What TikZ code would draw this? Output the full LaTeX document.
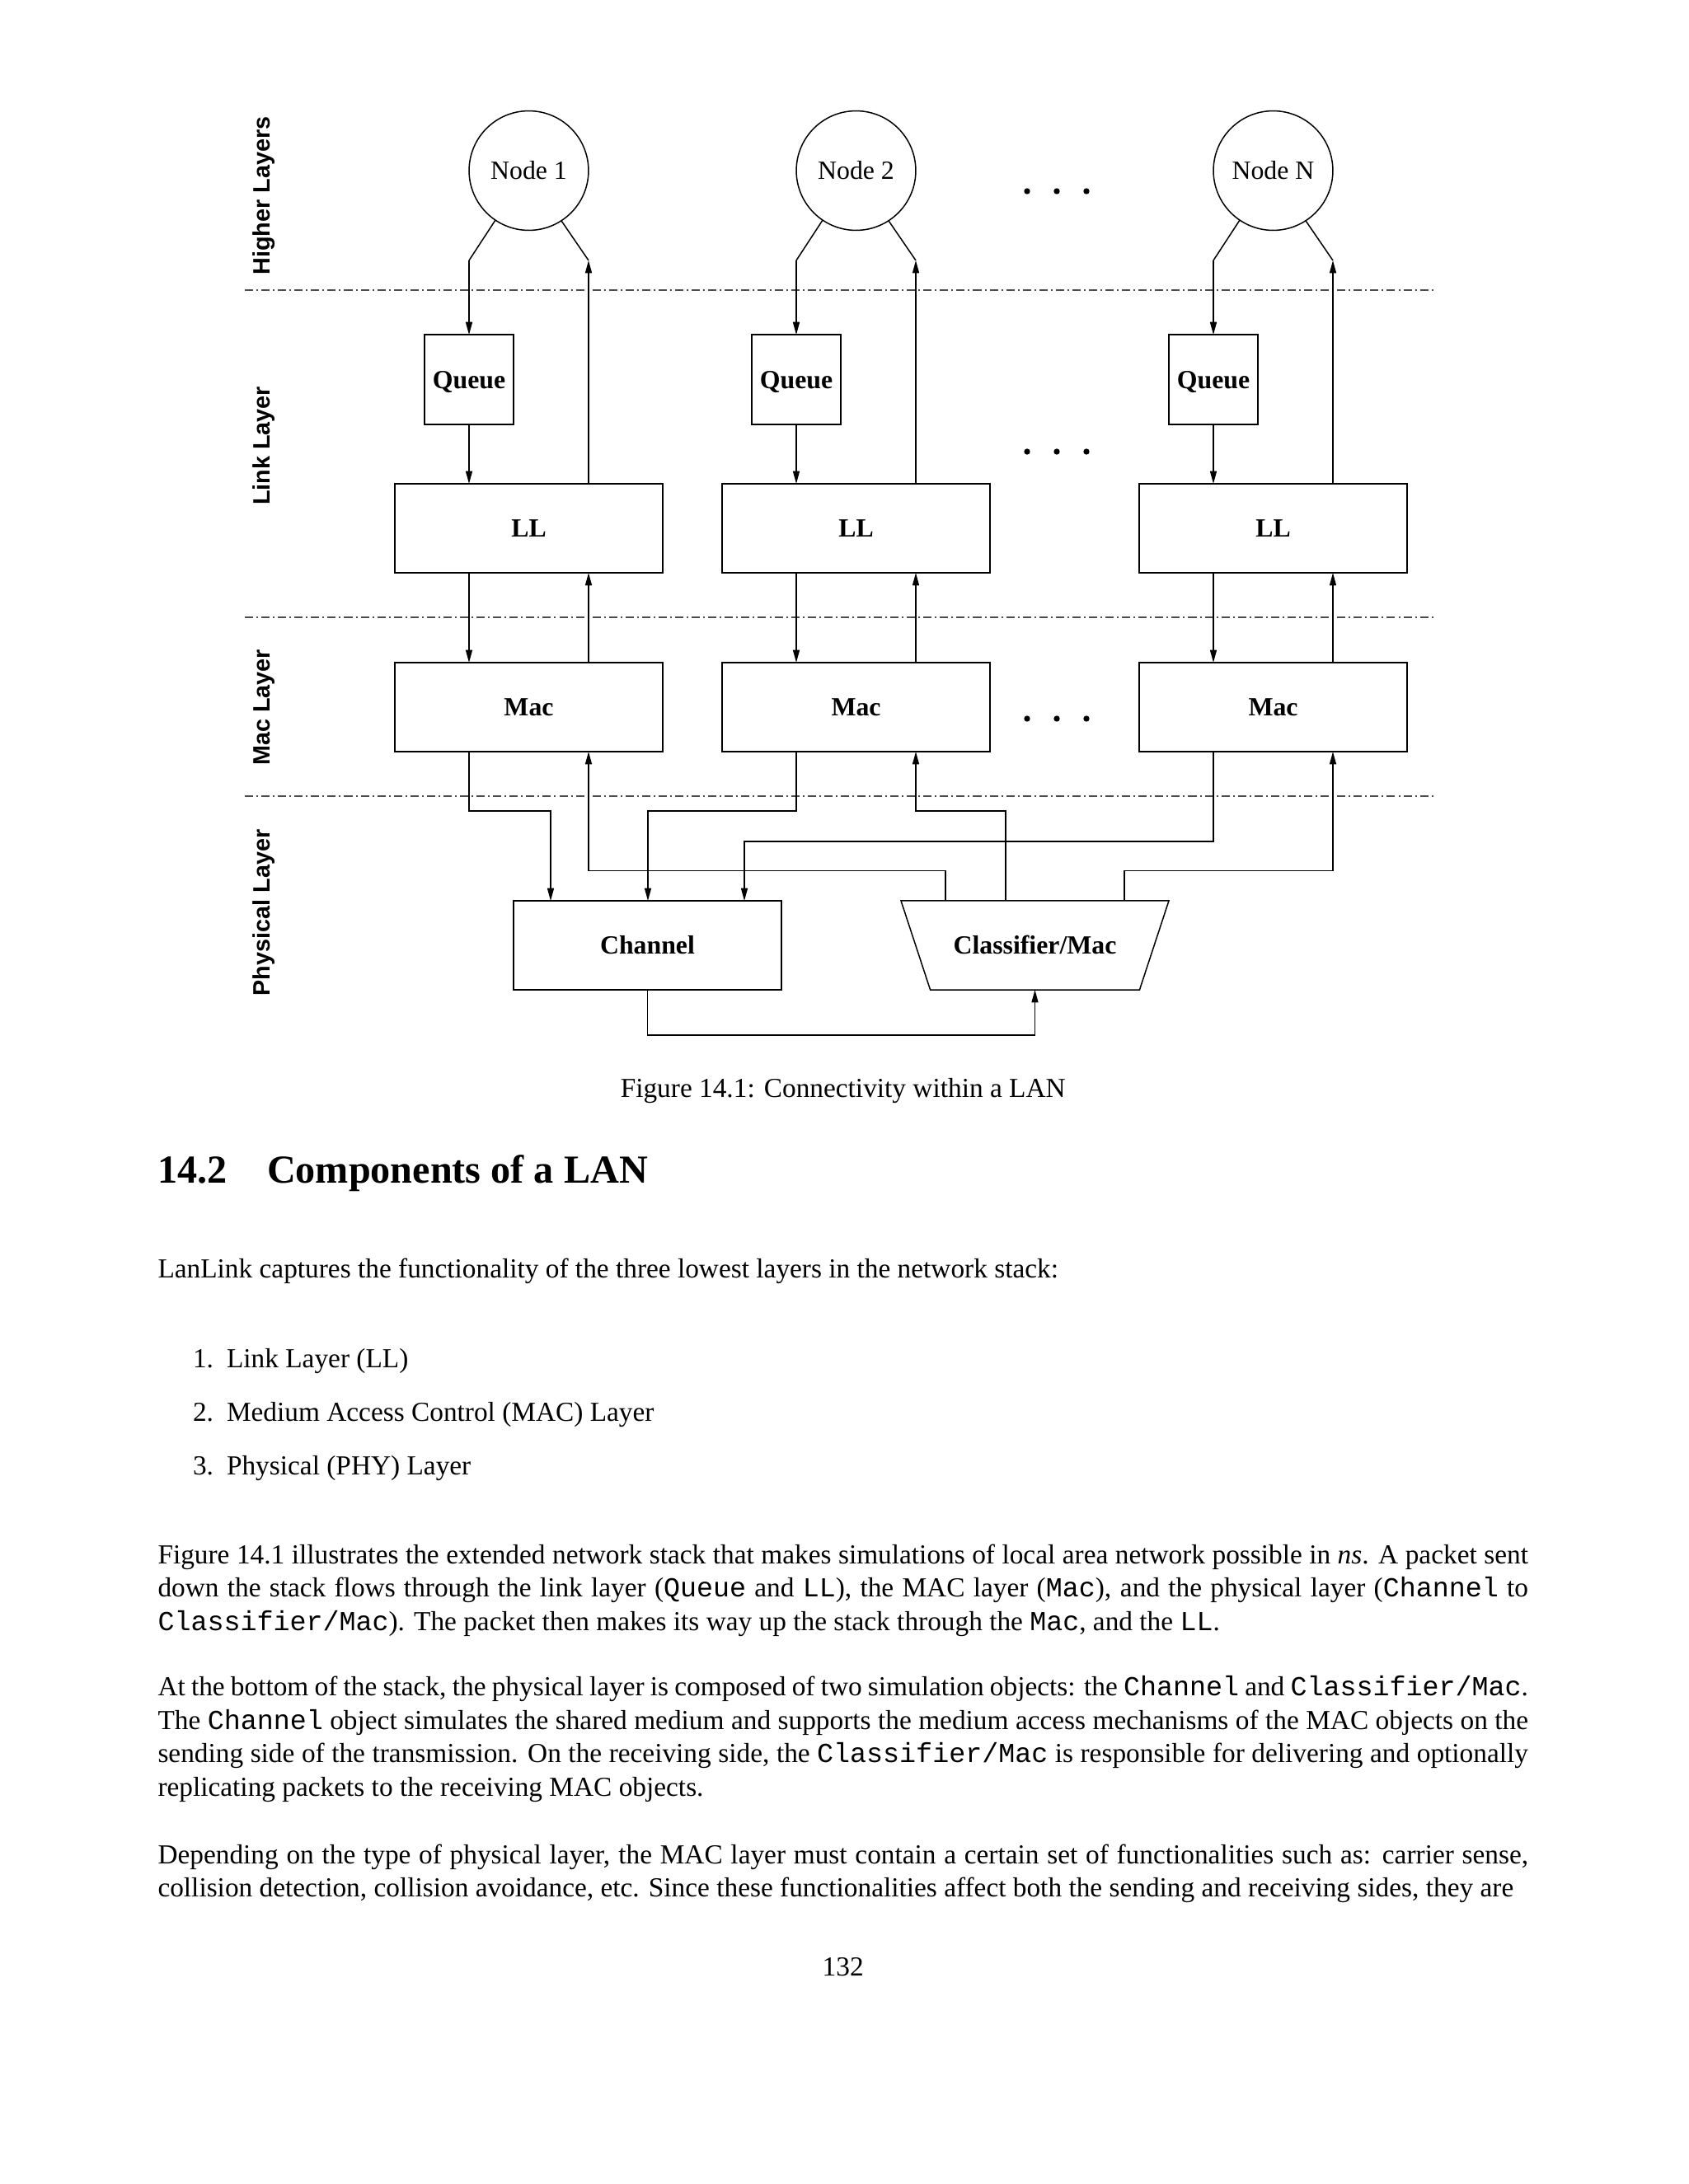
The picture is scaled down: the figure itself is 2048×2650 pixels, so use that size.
\documentclass[tikz,border=0pt]{standalone}
\usepackage{fontspec}
\setmainfont{Liberation Serif}
\setsansfont{Liberation Sans}
\setmonofont{Liberation Mono}
\usetikzlibrary{positioning,arrows.meta,shapes.geometric}

\begin{document}
\begin{tikzpicture}[x=0.29883bp, y=-0.29883bp, >={Triangle[length=4.6bp,width=2.4bp]},
    line width=0.45bp,
    every node/.style={inner sep=0pt, outer sep=0pt},
    blk/.style={draw, font=\fontsize{9.5bp}{11bp}\selectfont\bfseries, text height=6.3bp, text depth=0bp, minimum width=97.1bp, minimum height=32.3bp},
    queuebox/.style={blk, minimum width=32.4bp, minimum height=32.5bp},
    clsbox/.style={blk, trapezium, shape border rotate=180, trapezium angle=71.8, trapezium stretches body=true, text height=19.3bp, text depth=13bp},
    hostnode/.style={draw, circle, minimum size=43.3bp, font=\fontsize{9.5bp}{11bp}\selectfont, text height=6.3bp, text depth=0bp},
    layerline/.style={black!70, dash pattern=on 3bp off 1.2bp on 0.6bp off 1.2bp},
    layername/.style={rotate=90, anchor=base, font=\fontsize{8.6bp}{10bp}\selectfont\sffamily\bfseries},
    body/.style={anchor=base west, text width=496.8bp, align=justify, font=\fontsize{10pt}{12.1bp}\selectfont}]

    % Page
    \path[fill=white, use as bounding box] (0,0) rectangle (2048,2650);

    % Layer borders and names
    \draw[layerline] (297,352) -- (1741,352);
    \draw[layerline] (297,749) -- (1741,749);
    \draw[layerline] (297,966) -- (1741,966);
    \node[layername] (lblhigher) at (327,237.5) {Higher Layers};
    \node[layername] (lbllink) at (327,541) {Link Layer};
    \node[layername] (lblmac) at (327,858.5) {Mac Layer};
    \node[layername] (lblphy) at (327,1107.5) {Physical Layer};

    % Hosts
    \node[hostnode] (host1) at (641.5,207) {Node 1};
    \node[hostnode] (host2) at (1038.5,207) {Node 2};
    \node[hostnode] (hostN) at (1544.5,207) {Node N};

    % Link layer
    \node[queuebox] (queue1) at (569,460.5) {Queue};
    \node[queuebox] (queue2) at (966,460.5) {Queue};
    \node[queuebox] (queueN) at (1472,460.5) {Queue};
    \node[blk] (ll1) at (641.5,641) {LL};
    \node[blk] (ll2) at (1038.5,641) {LL};
    \node[blk] (llN) at (1544.5,641) {LL};

    % Mac layer
    \node[blk] (mac1) at (641.5,858) {Mac};
    \node[blk] (mac2) at (1038.5,858) {Mac};
    \node[blk] (macN) at (1544.5,858) {Mac};

    % Physical layer
    \node[blk] (channel) at (785.5,1147) {Channel};
    \node[clsbox] (classifier) at (1255.5,1147) {Classifier/Mac};

    % Bends below the hosts
    \coordinate (d1) at (569,316);
    \coordinate (u1) at (714,316);
    \coordinate (d2) at (966,316);
    \coordinate (u2) at (1111,316);
    \coordinate (dN) at (1472,316);
    \coordinate (uN) at (1617,316);

    % Down the stack
    \draw (host1.236.4) -- (d1);
    \draw[->] (d1) -- (queue1);
    \draw[->] (queue1) -- (queue1 |- ll1.north);
    \draw[->] (queue1 |- ll1.south) -- (queue1 |- mac1.north);
    \draw (host2.236.4) -- (d2);
    \draw[->] (d2) -- (queue2);
    \draw[->] (queue2) -- (queue2 |- ll2.north);
    \draw[->] (queue2 |- ll2.south) -- (queue2 |- mac2.north);
    \draw (hostN.236.4) -- (dN);
    \draw[->] (dN) -- (queueN);
    \draw[->] (queueN) -- (queueN |- llN.north);
    \draw[->] (queueN |- llN.south) -- (queueN |- macN.north);

    % Up the stack
    \draw[->] (u1 |- mac1.north) -- (u1 |- ll1.south);
    \draw[->] (u1 |- ll1.north) -- (u1);
    \draw (u1) -- (host1.303.6);
    \draw[->] (u2 |- mac2.north) -- (u2 |- ll2.south);
    \draw[->] (u2 |- ll2.north) -- (u2);
    \draw (u2) -- (host2.303.6);
    \draw[->] (uN |- macN.north) -- (uN |- llN.south);
    \draw[->] (uN |- llN.north) -- (uN);
    \draw (uN) -- (hostN.303.6);

    % Taps on channel and classifier
    \coordinate (chin1) at (668,1093);
    \coordinate (chin2) at (786,1093);
    \coordinate (chin3) at (903,1093);
    \coordinate (clsout1) at (1147,1093);
    \coordinate (clsout2) at (1220,1093);
    \coordinate (clsout3) at (1364,1093);

    % Mac to channel
    \draw[->] (queue1 |- mac1.south) -- (569,984) -| (chin1);
    \draw[->] (queue2 |- mac2.south) -- (966,984) -| (chin2);
    \draw[->] (queueN |- macN.south) -- (1472,1021) -| (chin3);

    % Classifier to mac
    \draw[->] (clsout1) -- (1147,1056.5) -| (u1 |- mac1.south);
    \draw[->] (clsout2) -- (1220,984) -| (u2 |- mac2.south);
    \draw[->] (clsout3) -- (1364,1056.5) -| (uN |- macN.south);

    % Channel to classifier
    \draw[->] (channel.south) -- (785.5,1256) -| (classifier |- channel.south);

    % More nodes
    \fill (1246,232) circle (1.1bp) (1282,232) circle (1.1bp) (1318,232) circle (1.1bp);
    \fill (1246,548) circle (1.1bp) (1282,548) circle (1.1bp) (1318,548) circle (1.1bp);
    \fill (1246,872) circle (1.1bp) (1282,872) circle (1.1bp) (1318,872) circle (1.1bp);

    % Caption and page text
    \node[anchor=base, font=\fontsize{10pt}{12bp}\selectfont] (caption) at (1022.7,1331) {Figure 14.1: Connectivity within a LAN};
    \node[anchor=base west, font=\fontsize{14.4bp}{17bp}\selectfont\bfseries] (sechead) at (191.5,1435) {14.2\quad Components of a LAN};
    \node[anchor=base west, font=\fontsize{10pt}{12.1bp}\selectfont] (intro) at (191.5,1550) {LanLink captures the functionality of the three lowest layers in the network stack:};
    \node[anchor=base west, font=\fontsize{10pt}{12.1bp}\selectfont] (item1) at (234,1659.5) {1.\hspace{4.8bp}Link Layer (LL)};
    \node[anchor=base west, font=\fontsize{10pt}{12.1bp}\selectfont] (item2) at (234,1724) {2.\hspace{4.8bp}Medium Access Control (MAC) Layer};
    \node[anchor=base west, font=\fontsize{10pt}{12.1bp}\selectfont] (item3) at (234,1789) {3.\hspace{4.8bp}Physical (PHY) Layer};
    \node[body] (para1) at (191.5,1897) {Figure 14.1 illustrates the extended network stack that makes simulations of local area network possible in \emph{ns}. A packet sent\linebreak down the stack flows through the link layer (\texttt{Queue} and \texttt{LL}), the MAC layer (\texttt{Mac}), and the physical layer (\texttt{Channel} to\linebreak \texttt{Classifier/Mac}). The packet then makes its way up the stack through the \texttt{Mac}, and the \texttt{LL}.};
    \node[body] (para2) at (191.5,2057.5) {At the bottom of the stack, the physical layer is composed of two simulation objects: the \texttt{Channel} and \texttt{Classifier/Mac}.\linebreak The \texttt{Channel} object simulates the shared medium and supports the medium access mechanisms of the MAC objects on the\linebreak sending side of the transmission. On the receiving side, the \texttt{Classifier/Mac} is responsible for delivering and optionally\linebreak replicating packets to the receiving MAC objects.};
    \node[body] (para3) at (191.5,2261) {\parfillskip=0pt Depending on the type of physical layer, the MAC layer must contain a certain set of functionalities such as: carrier sense,\linebreak collision detection, collision avoidance, etc. Since these functionalities affect both the sending and receiving sides, they are};
    \node[anchor=base, font=\fontsize{10pt}{12bp}\selectfont] (pagenum) at (1022.7,2397) {132};
\end{tikzpicture}
\end{document}
